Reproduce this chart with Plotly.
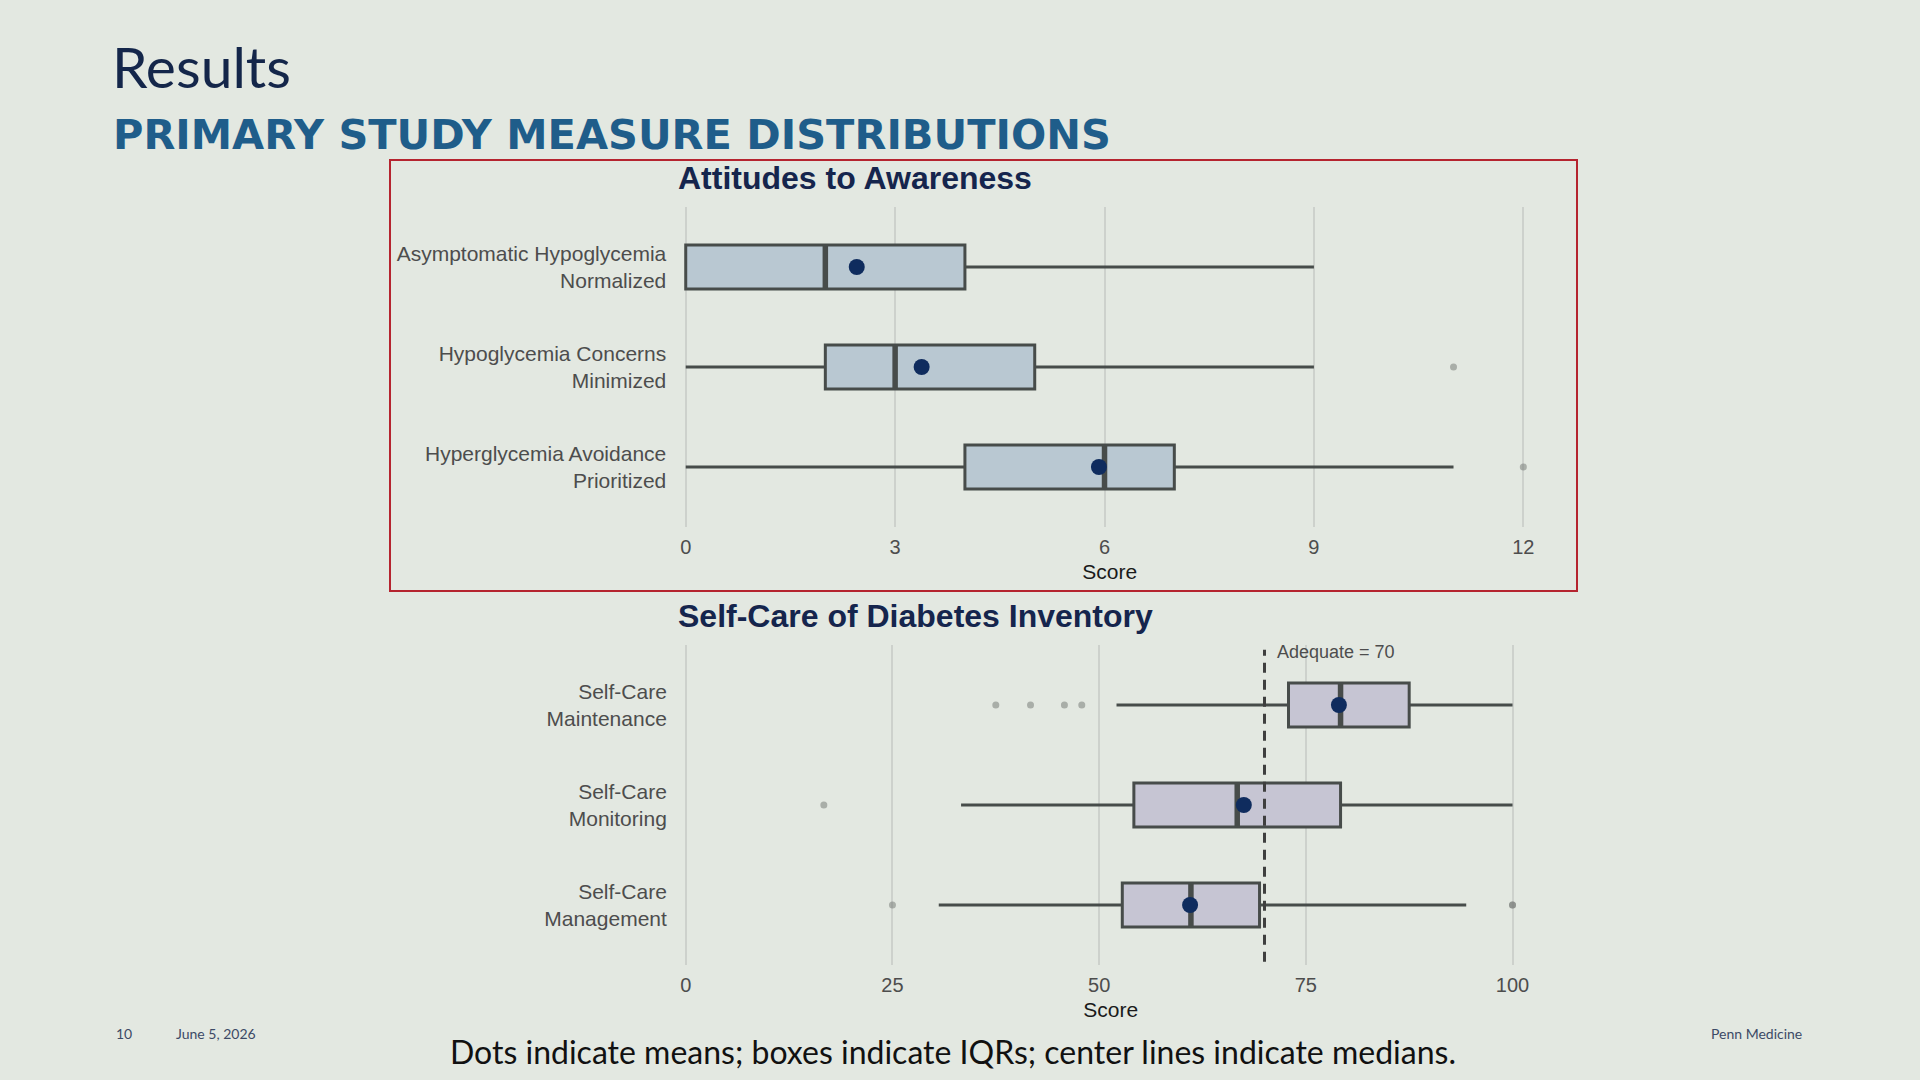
import plotly.graph_objects as go

W, H = 1920, 1080
BG = "#e3e8e1"
NAVY = "#0f2c5e"
LINE = "#474c4a"
OUTLIER = "#7a7d7a"
GRID = "#cdd1cc"
TXT = "#4d4d4d"

# Attitudes to Awareness (score 0-12)
ata_labels = ["Asymptomatic Hypoglycemia<br>Normalized",
              "Hypoglycemia Concerns<br>Minimized",
              "Hyperglycemia Avoidance<br>Prioritized"]
ata_low = [0, 0, 0]
ata_q1 = [0, 2, 4]
ata_median = [2, 3, 6]
ata_q3 = [4, 5, 7]
ata_high = [9, 9, 11]
ata_mean = [2.45, 3.38, 5.92]
ata_outliers = [[], [11], [12]]
ata_ticks = [0, 3, 6, 9, 12]

# Self-Care of Diabetes Inventory (score 0-100)
scodi_labels = ["Self-Care<br>Maintenance",
                "Self-Care<br>Monitoring",
                "Self-Care<br>Management"]
scodi_low = [52.1, 33.3, 30.6]
scodi_q1 = [72.9, 54.2, 52.8]
scodi_median = [79.2, 66.7, 61.1]
scodi_q3 = [87.5, 79.2, 69.4]
scodi_high = [100, 100, 94.4]
scodi_mean = [79.0, 67.5, 61.0]
scodi_outliers = [[37.5, 41.7, 45.8, 47.9], [16.7], [25.0, 100, 100]]
scodi_ticks = [0, 25, 50, 75, 100]
ADEQUATE = 70


def px(x):
    return x / W


def py(y):
    return 1 - y / H


fig = go.Figure()


def add_panel(xa, ya, labels, low, q1, med, q3, high, mean, outl, fill):
    pos = [len(labels) - 1 - i for i in range(len(labels))]
    fig.add_trace(go.Box(
        y=pos, q1=q1, median=med, q3=q3, lowerfence=low, upperfence=high,
        orientation="h", width=0.44, whiskerwidth=0, fillcolor=fill,
        line=dict(color=LINE, width=3), boxpoints=False, hoverinfo="skip",
        xaxis=xa, yaxis=ya, showlegend=False))
    # thicker median bars
    mx, my = [], []
    for m, p in zip(med, pos):
        mx += [m, m, None]
        my += [p - 0.215, p + 0.215, None]
    fig.add_trace(go.Scatter(x=mx, y=my, mode="lines",
                             line=dict(color=LINE, width=5.5),
                             xaxis=xa, yaxis=ya, showlegend=False, hoverinfo="skip"))
    ox, oy = [], []
    for vals, p in zip(outl, pos):
        ox += vals
        oy += [p] * len(vals)
    fig.add_trace(go.Scatter(x=ox, y=oy, mode="markers",
                             marker=dict(color=OUTLIER, size=7, opacity=0.55),
                             xaxis=xa, yaxis=ya, showlegend=False, hoverinfo="skip"))
    fig.add_trace(go.Scatter(x=mean, y=pos, mode="markers",
                             marker=dict(color=NAVY, size=16),
                             xaxis=xa, yaxis=ya, showlegend=False, hoverinfo="skip"))
    return pos


pos_top = add_panel("x", "y", ata_labels, ata_low, ata_q1, ata_median, ata_q3,
                    ata_high, ata_mean, ata_outliers, "#b9c8d2")
pos_bot = add_panel("x2", "y2", scodi_labels, scodi_low, scodi_q1, scodi_median,
                    scodi_q3, scodi_high, scodi_mean, scodi_outliers, "#c6c5d3")

xcommon = dict(showgrid=True, gridcolor=GRID, gridwidth=1.5, zeroline=False,
               showline=False, ticks="", ticklabelstandoff=6,
               tickfont=dict(family="Liberation Sans, Arial", size=20, color=TXT),
               fixedrange=True)
ycommon = dict(showgrid=False, zeroline=False, showline=False, ticks="",
               range=[-0.6, 2.6], ticklabelstandoff=8,
               tickfont=dict(family="Liberation Sans, Arial", size=21, color=TXT))
score_title = dict(text="Score", standoff=7,
                   font=dict(family="Liberation Sans, Arial", size=21, color="#1a1a1a"))

fig.update_layout(
    width=W, height=H,
    margin=dict(l=0, r=0, t=0, b=0),
    paper_bgcolor=BG, plot_bgcolor=BG,
    xaxis=dict(domain=[0.3517, 0.8043], range=[-0.15, 12.3], tickvals=ata_ticks,
               anchor="y", title=score_title, **xcommon),
    yaxis=dict(domain=[py(527), py(207)], tickvals=pos_top, ticktext=ata_labels,
               anchor="x", **ycommon),
    xaxis2=dict(domain=[0.3520, 0.8050], range=[-1.2, 104], tickvals=scodi_ticks,
                anchor="y2", title=score_title, **xcommon),
    yaxis2=dict(domain=[py(965), py(645)], tickvals=pos_bot, ticktext=scodi_labels,
                anchor="x2", **ycommon),
)

# adequate threshold
fig.add_shape(type="line", xref="x2", yref="y2 domain", x0=ADEQUATE, x1=ADEQUATE,
              y0=0.01, y1=0.985, line=dict(color="#3f3f3f", width=3, dash="10px,7px"))
fig.add_annotation(xref="x2", yref="y2 domain", x=ADEQUATE, y=0.978, xshift=10,
                   text=f"Adequate = {ADEQUATE}", showarrow=False, xanchor="left",
                   yanchor="middle",
                   font=dict(family="Liberation Sans, Arial", size=18, color=TXT))

# highlight box around the first panel
fig.add_shape(type="rect", xref="paper", yref="paper", x0=px(390), x1=px(1577),
              y0=py(591), y1=py(160), line=dict(color="#b5242f", width=2))

# panel titles
for txt, ytop in [("Attitudes to Awareness", 178), ("Self-Care of Diabetes Inventory", 616)]:
    fig.add_annotation(xref="paper", yref="paper", x=px(676), y=py(ytop), text=f"<b>{txt}</b>",
                       showarrow=False, xanchor="left", yanchor="middle",
                       font=dict(family="Liberation Sans, Arial", size=32, color="#15254d"))

# slide texts
fig.add_annotation(xref="paper", yref="paper", x=px(110), y=py(66), text="Results",
                   showarrow=False, xanchor="left", yanchor="middle",
                   font=dict(family="Lato", size=57, color="#14264a"))
fig.add_annotation(xref="paper", yref="paper", x=px(111), y=py(134),
                   text="<b>PRIMARY STUDY MEASURE DISTRIBUTIONS</b>",
                   showarrow=False, xanchor="left", yanchor="middle",
                   font=dict(family="DejaVu Sans", size=41.5, color="#1f5d8a"))
fig.add_annotation(xref="paper", yref="paper", x=px(953), y=py(1051),
                   text="Dots indicate means; boxes indicate IQRs; center lines indicate medians.",
                   showarrow=False, xanchor="center", yanchor="middle",
                   font=dict(family="Lato", size=32, color="#111111"))
fig.add_annotation(xref="paper", yref="paper", x=px(114), y=py(1033), text="10",
                   showarrow=False, xanchor="left", yanchor="middle",
                   font=dict(family="Lato", size=14, color="#3c4a66"))
fig.add_annotation(xref="paper", yref="paper", x=px(174), y=py(1033), text="June 5, 2026",
                   showarrow=False, xanchor="left", yanchor="middle",
                   font=dict(family="Lato", size=14, color="#3c4a66"))
fig.add_annotation(xref="paper", yref="paper", x=px(1804), y=py(1033), text="Penn Medicine",
                   showarrow=False, xanchor="right", yanchor="middle",
                   font=dict(family="Lato", size=14, color="#3c4a66"))

fig.write_html("out.html", config={"displayModeBar": False},
               post_script="document.body.style.margin='0';"
               "document.body.style.overflow='hidden';")
